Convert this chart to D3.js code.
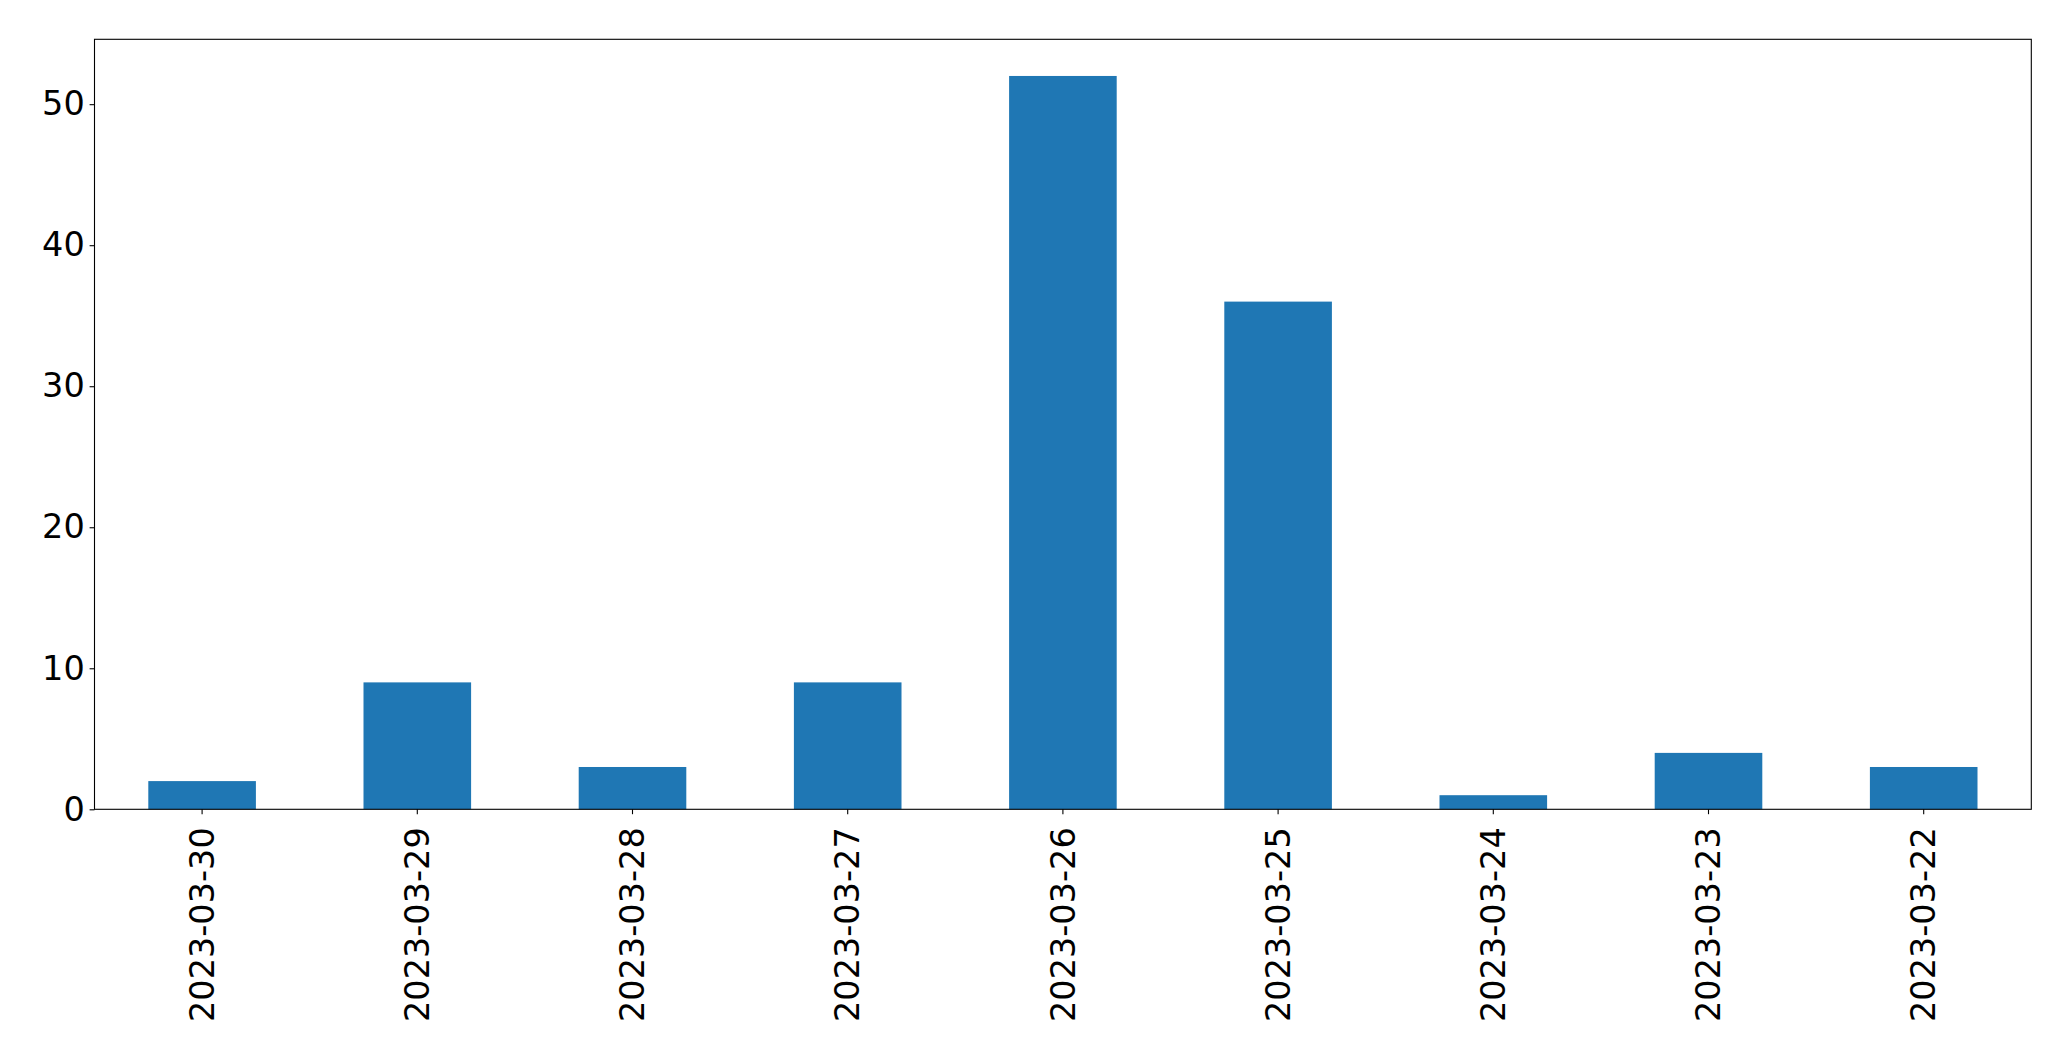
<!DOCTYPE html>
<html>
<head>
<meta charset="utf-8">
<script src="https://cdn.jsdelivr.net/npm/d3@7"></script>
<style>
  html, body { margin: 0; padding: 0; background: #fff; }
  svg { display: block; }
  text { font-family: "DejaVu Sans", sans-serif; fill: #000; }
</style>
</head>
<body>
<script>
const categories = ["2023-03-30","2023-03-29","2023-03-28","2023-03-27","2023-03-26","2023-03-25","2023-03-24","2023-03-23","2023-03-22"];
const values = [2, 9, 3, 9, 52, 36, 1, 4, 3];
const yTicks = [0, 10, 20, 30, 40, 50];

const W = 2071, H = 1061;
const m = { left: 94.5, top: 39.3, right: 2031.3, bottom: 809.3 };
const fontPx = 33.5;

const svg = d3.select("body").append("svg").attr("width", W).attr("height", H);

const x = d3.scaleBand().domain(categories).range([m.left, m.right]).paddingInner(0.5).paddingOuter(0.25);
const y = d3.scaleLinear().domain([0, d3.max(values) * 1.05]).range([m.bottom, m.top]);

svg.append("g").selectAll("rect").data(values).join("rect")
  .attr("x", (d, i) => x(categories[i]))
  .attr("width", x.bandwidth())
  .attr("y", d => y(d))
  .attr("height", d => y(0) - y(d))
  .attr("fill", "#1f77b4");

// frame
svg.append("rect")
  .attr("x", m.left).attr("y", m.top)
  .attr("width", m.right - m.left).attr("height", m.bottom - m.top)
  .attr("fill", "none").attr("stroke", "#000").attr("stroke-width", 1.1);

const yAxis = d3.axisLeft(y).tickValues(yTicks).tickSize(4.9).tickPadding(4.9).tickFormat(d3.format("d"));
const gy = svg.append("g").attr("transform", `translate(${m.left},0)`).call(yAxis);
gy.select(".domain").remove();
gy.selectAll(".tick line").attr("stroke", "#000").attr("stroke-width", 1.1);
gy.selectAll(".tick text").style("font-size", fontPx + "px").style("font-family", "DejaVu Sans").attr("fill", "#000");

const xAxis = d3.axisBottom(x).tickSize(4.9).tickPadding(0);
const gx = svg.append("g").attr("transform", `translate(0,${m.bottom})`).call(xAxis);
gx.select(".domain").remove();
gx.selectAll(".tick line").attr("stroke", "#000").attr("stroke-width", 1.1);
gx.selectAll(".tick text")
  .style("font-size", fontPx + "px").style("font-family", "DejaVu Sans").attr("fill", "#000")
  .attr("text-anchor", "end")
  .attr("transform", "rotate(-90)")
  .attr("x", -18)
  .attr("y", 0)
  .attr("dy", "0.35em");
</script>
</body>
</html>
